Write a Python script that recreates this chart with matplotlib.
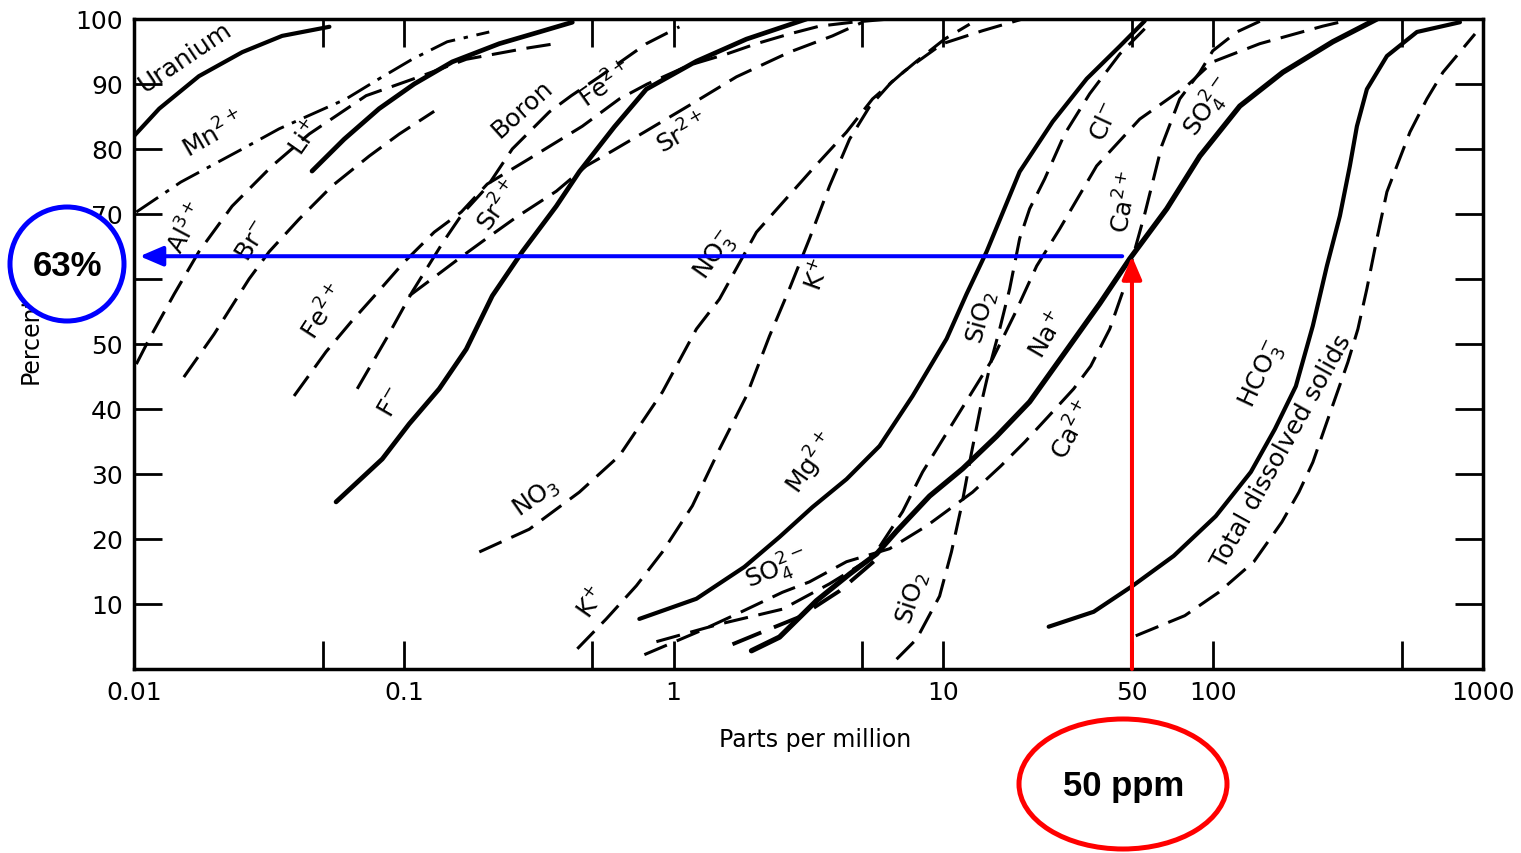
import matplotlib
matplotlib.use('Agg')
import matplotlib.pyplot as plt
from matplotlib.patches import Ellipse

# -------------- curve data: concentration (ppm) vs cumulative percent --------------
uranium_ppm = [0.010, 0.0124, 0.0174, 0.0252, 0.0354, 0.053]
uranium_pct = [82.0, 86.2, 91.2, 94.9, 97.4, 98.8]

mn_ppm = [0.0102, 0.0149, 0.0260, 0.0345, 0.0611, 0.0810, 0.1074, 0.1449, 0.2074]
mn_pct = [70.3, 74.9, 80.3, 83.1, 87.7, 90.8, 93.8, 96.5, 98.0]

al_ppm = [0.0102, 0.0114, 0.0141, 0.0174, 0.0231, 0.0325, 0.0446, 0.0725, 0.1141, 0.1704, 0.2844, 0.3771]
al_pct = [46.9, 50.8, 57.7, 64.2, 71.2, 77.4, 82.3, 88.2, 91.1, 93.8, 95.5, 96.3]

br_ppm = [0.0153, 0.0198, 0.0267, 0.0317, 0.0409, 0.0542, 0.0744, 0.0962, 0.1296]
br_pct = [44.9, 51.5, 60.0, 64.2, 69.2, 74.3, 78.9, 82.3, 85.8]

li_ppm = [0.0457, 0.0601, 0.0810, 0.1093, 0.1512, 0.2259, 0.3178, 0.4213]
li_pct = [76.6, 81.5, 86.2, 90.0, 93.4, 96.2, 98.0, 99.5]

fe_ppm = [0.0392, 0.0515, 0.0638, 0.0790, 0.1003, 0.1296, 0.1633, 0.2038, 0.2918, 0.4589,
          0.6295, 0.7995, 1.144, 1.570, 2.028, 2.689, 3.474, 4.605, 6.317]
fe_pct = [42.0, 48.8, 53.4, 57.7, 62.6, 67.2, 70.3, 74.6, 78.5, 83.5,
          87.7, 90.0, 92.9, 94.6, 96.2, 97.7, 98.9, 99.5, 100.0]

boron_ppm = [0.0672, 0.0861, 0.1074, 0.1400, 0.1647, 0.2038, 0.2524, 0.3462, 0.4177, 0.5306, 0.7926, 1.051]
boron_pct = [43.1, 50.8, 58.0, 65.7, 70.0, 74.2, 80.0, 85.7, 88.2, 91.1, 96.2, 98.8]

sr_ppm = [0.1047, 0.1319, 0.1633, 0.2021, 0.2612, 0.3675, 0.4750, 0.5929, 0.7793, 1.164, 1.710, 2.689, 3.882, 5.016]
sr_pct = [57.4, 60.5, 63.4, 66.2, 69.5, 73.5, 77.4, 79.7, 82.6, 86.9, 91.1, 94.9, 97.4, 99.5]

f_ppm = [0.0561, 0.0832, 0.1047, 0.1353, 0.1704, 0.2128, 0.2749, 0.3675, 0.4473, 0.6031, 0.7926, 1.215, 1.862, 3.110]
f_pct = [25.7, 32.3, 37.7, 43.1, 49.2, 57.4, 64.2, 71.2, 76.5, 83.4, 89.2, 93.5, 96.9, 100.0]

no3_ppm = [0.1905, 0.2918, 0.4473, 0.6295, 0.9089, 1.215, 1.479, 2.028, 2.469, 3.272,
           4.375, 5.462, 7.181, 9.931, 13.98, 19.67]
no3_pct = [18.0, 21.5, 27.2, 32.8, 42.6, 52.3, 56.9, 67.2, 71.2, 76.9,
           82.6, 87.7, 92.0, 96.2, 98.2, 100.0]

k_ppm = [0.4397, 0.5630, 0.7278, 0.9089, 1.174, 1.479, 1.862, 2.266, 2.689, 3.189,
         3.784, 4.489, 5.324, 6.427, 7.956, 10.10, 12.51]
k_pct = [3.1, 7.7, 12.8, 18.0, 25.1, 33.8, 42.0, 51.2, 58.5, 66.2,
         74.3, 81.5, 86.5, 90.3, 93.5, 96.9, 99.2]

mg_ppm = [0.7466, 1.215, 1.830, 2.469, 3.272, 4.375, 5.800, 7.690, 10.28, 12.19,
          14.46, 19.17, 25.41, 33.98, 45.04, 55.76]
mg_pct = [7.7, 10.8, 15.7, 20.3, 24.9, 29.2, 34.3, 42.0, 50.8, 57.7,
          64.2, 76.5, 84.2, 90.8, 95.8, 99.7]

sio2_ppm = [6.707, 7.956, 9.68, 10.71, 11.68, 12.73, 13.86, 15.10, 16.17, 17.61,
            19.17, 20.88, 23.74, 28.15, 34.86, 45.04, 55.76]
sio2_pct = [1.5, 4.6, 11.2, 18.0, 25.1, 33.4, 41.1, 47.7, 52.3, 58.5,
            66.2, 70.8, 75.4, 82.3, 88.5, 94.6, 98.5]

na_ppm = [1.944, 2.469, 3.385, 4.489, 5.652, 6.707, 8.887, 11.78, 15.75, 20.88,
          27.67, 37.96, 49.06, 67.30, 89.20, 125.5, 181.2, 277.7, 404.5]
na_pct = [2.8, 4.9, 10.5, 14.6, 17.7, 21.2, 26.6, 30.8, 35.8, 41.1,
          48.2, 56.2, 63.1, 70.8, 78.9, 86.6, 91.8, 96.5, 100.0]

cl_ppm = [5.800, 7.059, 8.373, 11.48, 15.22, 18.37, 22.17, 26.98, 36.99, 53.43,
          79.80, 99.66, 148.9, 255.0, 307.7]
cl_pct = [18.8, 24.2, 30.3, 39.5, 47.7, 54.6, 62.0, 67.7, 77.4, 84.6,
          89.7, 93.4, 96.2, 98.9, 99.7]

ca_ppm = [0.7793, 1.246, 1.724, 2.533, 3.189, 4.375, 6.317, 8.663, 12.83, 16.30, 20.01, 24.56,
          30.40, 35.16, 41.36, 47.00, 55.76, 64.48, 75.17, 89.20, 99.66, 122.3, 155.4]
ca_pct = [2.2, 5.8, 8.5, 11.8, 13.4, 16.5, 18.5, 22.0, 27.2, 31.2, 34.9, 38.9,
          43.1, 46.6, 52.3, 58.9, 70.0, 80.5, 87.7, 91.8, 95.1, 98.0, 100.0]

so4_ppm = [0.8636, 1.479, 2.533, 3.784, 5.324]
so4_pct = [4.2, 6.9, 9.2, 13.1, 16.9]

so4b_ppm = [1.653, 2.135, 2.929, 4.121, 5.652]
so4b_pct = [3.8, 5.7, 8.0, 12.0, 16.9]

hco3_ppm = [24.56, 36.07, 50.33, 71.43, 102.2, 137.9, 169.3, 202.5, 234.1, 248.6,
            263.9, 294.9, 321.1, 341.0, 371.3, 440.5, 569.1, 821.6]
hco3_pct = [6.5, 8.8, 12.8, 17.4, 23.5, 30.3, 36.9, 43.5, 52.8, 57.4,
            62.0, 69.7, 77.4, 83.5, 89.2, 94.3, 98.0, 99.5]

tds_ppm = [51.63, 78.47, 104.9, 141.5, 179.7, 207.8, 234.1, 263.9, 315.7, 343.9,
           371.3, 404.5, 440.5, 479.7, 536.2, 619.8, 710.6, 934.0]
tds_pct = [5.1, 8.2, 11.8, 16.5, 22.6, 27.2, 31.8, 38.0, 47.2, 52.3,
           58.5, 66.2, 73.4, 77.4, 82.6, 87.7, 91.8, 97.7]

# curve labels: text, ppm, percent, rotation
label_text = ['Uranium', 'Mn$^{2+}$', 'Li$^{+}$', 'Al$^{3+}$', 'Br$^{-}$', 'Fe$^{2+}$', 'F$^{-}$',
              'Sr$^{2+}$', 'Boron', 'Fe$^{2+}$', 'Sr$^{2+}$', 'NO$_3^{-}$', 'K$^{+}$', 'NO$_3$',
              'K$^{+}$', 'Mg$^{2+}$', 'SO$_4^{2-}$', 'SiO$_2$', 'SiO$_2$', 'Na$^{+}$', 'Ca$^{2+}$',
              'Cl$^{-}$', 'Ca$^{2+}$', 'SO$_4^{2-}$', 'HCO$_3^{-}$', 'Total dissolved solids']
label_ppm = [0.0155, 0.0198, 0.0427, 0.0157, 0.0276, 0.0507, 0.0898,
             0.226, 0.275, 0.563, 1.078, 1.429, 3.415, 0.310,
             0.4955, 3.244, 2.406, 7.69, 13.86, 24.14, 30.15,
             39.62, 47.41, 96.0, 152.0, 180.0]
label_pct = [94.2, 82.3, 81.8, 68.0, 66.0, 55.1, 41.1,
             71.4, 86.2, 90.0, 82.6, 63.7, 60.8, 26.5,
             10.3, 31.8, 15.4, 11.1, 54.2, 51.5, 36.9,
             84.3, 72.0, 86.5, 45.4, 33.6]
label_rot = [34, 30, 55, 62, 58, 57, 60,
             55, 42, 35, 30, 55, 70, 35,
             55, 55, 22, 72, 75, 60, 62,
             65, 80, 55, 65, 61]

x_ticks = [0.01, 0.05, 0.1, 0.5, 1, 5, 10, 50, 100, 500, 1000]
x_tick_labels = ['0.01', '', '0.1', '', '1', '', '10', '50', '100', '', '1000']
y_ticks = [10, 20, 30, 40, 50, 60, 70, 80, 90, 100]
y_tick_labels = ['10', '20', '30', '40', '50', '', '70', '80', '90', '100']  # 60 sits under the circle

answer_ppm = 50
answer_pct = 63.5
# ------------------------------------------------------------------------------------

solid = dict(color='black', lw=3.0, solid_capstyle='round', solid_joinstyle='round')
dashed = dict(color='black', lw=2.2, linestyle=(0, (8, 3.5)), dash_capstyle='butt')

fig = plt.figure(figsize=(15.21, 8.54), dpi=100)
ax = fig.add_axes([0.0881, 0.2155, 0.8869, 0.7611])

ax.plot(uranium_ppm, uranium_pct, **solid)
ax.plot(mn_ppm, mn_pct, color='black', lw=2.1, linestyle=(0, (9, 3, 1.5, 3)))
ax.plot(al_ppm, al_pct, **dashed)
ax.plot(br_ppm, br_pct, **dashed)
ax.plot(li_ppm, li_pct, **dict(solid, lw=3.4))
ax.plot(fe_ppm, fe_pct, **dashed)
ax.plot(boron_ppm, boron_pct, **dashed)
ax.plot(sr_ppm, sr_pct, **dashed)
ax.plot(f_ppm, f_pct, **dict(solid, lw=3.4))
ax.plot(no3_ppm, no3_pct, **dashed)
ax.plot(k_ppm, k_pct, **dashed)
ax.plot(mg_ppm, mg_pct, **solid)
ax.plot(sio2_ppm, sio2_pct, **dashed)
ax.plot(cl_ppm, cl_pct, **dashed)
ax.plot(ca_ppm, ca_pct, **dashed)
ax.plot(so4_ppm, so4_pct, **dashed)
ax.plot(so4b_ppm, so4b_pct, **dict(dashed, lw=2.8))
ax.plot(na_ppm, na_pct, **dict(solid, lw=3.8))
ax.plot(hco3_ppm, hco3_pct, **solid)
ax.plot(tds_ppm, tds_pct, **dashed)

for txt, xv, yv, rot in zip(label_text, label_ppm, label_pct, label_rot):
    ax.text(xv, yv, txt, rotation=rot, ha='center', va='center', fontsize=18,
            rotation_mode='anchor')

ax.set_xscale('log')
ax.set_xlim(0.01, 1000)
ax.set_ylim(0, 100)
ax.set_xticks(x_ticks)
ax.set_xticklabels(x_tick_labels)
ax.minorticks_off()
ax.set_yticks(y_ticks)
ax.set_yticklabels(y_tick_labels)
ax.tick_params(axis='both', direction='in', length=20, width=2, labelsize=18,
               top=True, right=True, pad=8)
for sp in ax.spines.values():
    sp.set_linewidth(2.5)

ax.set_xlabel('Parts per million', fontsize=17)
ax.xaxis.set_label_coords(0.505, -0.089)
ax.set_ylabel('Percent', fontsize=17)
ax.yaxis.set_label_coords(-0.0675, 0.508)

# reading of the chart: 50 ppm -> 63 %
ax.annotate('', xy=(0.0105, answer_pct), xytext=(46, answer_pct),
            arrowprops=dict(arrowstyle='-|>,head_length=0.7,head_width=0.3', color='blue',
                            lw=2.9, shrinkA=0, shrinkB=0, mutation_scale=20), zorder=6)
ax.annotate('', xy=(answer_ppm, answer_pct), xytext=(answer_ppm, 0),
            arrowprops=dict(arrowstyle='-|>,head_length=0.7,head_width=0.3', color='red',
                            lw=2.9, shrinkA=0, shrinkB=0, mutation_scale=20), zorder=6)

circle = Ellipse((67 / 1521, 1 - 265 / 854), 114 / 1521, 114 / 854, transform=fig.transFigure,
                 facecolor='white', edgecolor='blue', lw=3.6, zorder=10)
fig.add_artist(circle)
fig.text(67 / 1521, 1 - 267 / 854, '63%', ha='center', va='center', fontsize=25,
         fontweight='bold', family='Liberation Sans', zorder=11)

oval = Ellipse((1123 / 1521, 1 - 785 / 854), 208 / 1521, 130 / 854, transform=fig.transFigure,
               facecolor='white', edgecolor='red', lw=3.6, zorder=10)
fig.add_artist(oval)
fig.text(1124 / 1521, 1 - 787 / 854, '50 ppm', ha='center', va='center', fontsize=25,
         fontweight='bold', family='Liberation Sans', zorder=11)

fig.savefig('out.png', dpi=100)
